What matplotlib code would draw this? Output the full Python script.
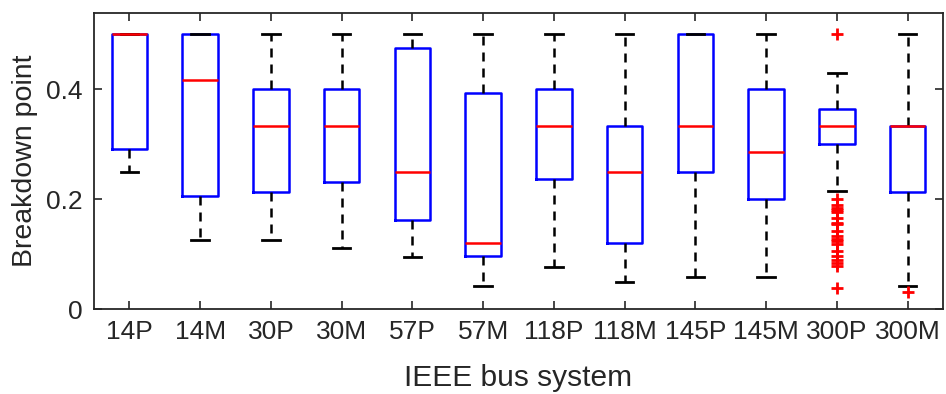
import matplotlib
matplotlib.use("Agg")
import matplotlib.pyplot as plt

# Breakdown point per IEEE bus system (P / M variants)
categories = ["14P", "14M", "30P", "30M", "57P", "57M",
              "118P", "118M", "145P", "145M", "300P", "300M"]
medians  = [0.500, 0.417, 0.333, 0.333, 0.250, 0.121, 0.333, 0.250, 0.333, 0.286, 0.333, 0.333]
q1       = [0.292, 0.206, 0.213, 0.232, 0.162, 0.097, 0.236, 0.121, 0.250, 0.200, 0.300, 0.213]
q3       = [0.500, 0.500, 0.400, 0.400, 0.475, 0.394, 0.400, 0.333, 0.500, 0.400, 0.365, 0.333]
whis_lo  = [0.250, 0.125, 0.125, 0.111, 0.094, 0.042, 0.077, 0.049, 0.059, 0.059, 0.215, 0.042]
whis_hi  = [0.500, 0.500, 0.500, 0.500, 0.500, 0.500, 0.500, 0.500, 0.500, 0.500, 0.429, 0.500]
outliers = [[], [], [], [], [], [], [], [], [], [],
            [0.500, 0.200, 0.189, 0.184, 0.180, 0.176, 0.166, 0.157, 0.154, 0.143,
             0.133, 0.127, 0.123, 0.118, 0.106, 0.0965, 0.089, 0.084, 0.079, 0.039],
            [0.0315]]

plt.rcParams['font.family'] = ['Liberation Sans', 'DejaVu Sans']

stats = []
for i, name in enumerate(categories):
    stats.append(dict(label=name, med=medians[i], q1=q1[i], q3=q3[i],
                      whislo=whis_lo[i], whishi=whis_hi[i], fliers=outliers[i]))

fig = plt.figure(figsize=(9.46, 3.94), dpi=100)
ax = fig.add_axes([0.0994, 0.2157, 0.8974, 0.7525])

ax.bxp(stats, positions=range(1, len(categories) + 1), widths=0.5, capwidths=0.25,
       boxprops=dict(color='#0000ff', linewidth=1.8),
       medianprops=dict(color='#ff0000', linewidth=1.8),
       whiskerprops=dict(color='black', linewidth=1.8, linestyle=(0, (3.6, 2.8))),
       capprops=dict(color='black', linewidth=2),
       flierprops=dict(marker='+', markeredgecolor='#ff0000', markersize=8,
                       markeredgewidth=2, linestyle='none'))

ax.set_xlim(0.5, 12.5)
ax.set_ylim(0, 0.54)
ax.set_yticks([0, 0.2, 0.4])
ax.set_yticklabels(["0", "0.2", "0.4"])
ax.set_xticklabels(categories)

ax.tick_params(direction='in', which='both', top=True, right=True,
               length=6, width=1.2, colors='#262626', labelsize=19, pad=8)
for s in ax.spines.values():
    s.set_color('#262626')
    s.set_linewidth(1.3)

ax.set_xlabel("IEEE bus system", fontsize=21.5, color='#262626', labelpad=14)
ax.set_ylabel("Breakdown point", fontsize=20.5, color='#262626', labelpad=6)

fig.savefig("out.png", dpi=100)
